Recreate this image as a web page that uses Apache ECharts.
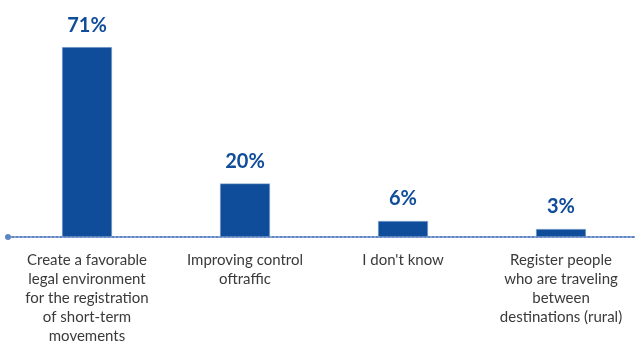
<!doctype html>
<html lang="en">
<head>
	<meta charset="utf-8" />
	<script src="https://cdn.jsdelivr.net/npm/echarts@6/dist/echarts.min.js"></script>
	<style>
		html, body { margin: 0; padding: 0; background: #fff; }
	</style>
</head>
<body>
	<div id="main" style="width: 635px; height: 341px;"></div>
	<script>
		var categories = [
			'Create a favorable\nlegal environment\nfor the registration\nof short-term\nmovements',
			'Improving control\noftraffic',
			'I don\'t know',
			'Register people\nwho are traveling\nbetween\ndestinations (rural)'
		];
		var values = [71, 20, 6, 3];

		var myChart = echarts.init(document.getElementById('main'));
		var option = {
			animation: false,
			grid: {
				left: 8,
				right: -5,
				top: 23,
				height: 214,
				containLabel: false,
				outerBoundsMode: 'none'
			},
			xAxis: {
				type: 'category',
				data: categories,
				axisTick: { show: false },
				axisLine: {
					show: true,
					symbol: ['circle', 'none'],
					symbolSize: [6, 6],
					lineStyle: { color: '#5f86c4', type: 'dotted', width: 2 }
				},
				axisLabel: {
					interval: 0,
					margin: 14,
					color: '#3a3a3a',
					fontFamily: 'Lato',
					fontSize: 15,
					lineHeight: 19,
					align: 'center'
				}
			},
			yAxis: {
				type: 'value',
				min: 0,
				max: 80,
				show: false,
				splitLine: { show: false }
			},
			series: [{
				type: 'bar',
				data: values,
				barWidth: 50,
				itemStyle: {
					color: '#0f4c9a',
					borderColor: '#a9bfe0',
					borderWidth: 0.5
				},
				label: {
					show: true,
					position: 'top',
					distance: 12,
					formatter: '{c}%',
					color: '#0f4c9a',
					fontFamily: 'Lato',
					fontWeight: 'bold',
					fontSize: 20
				}
			}]
		};
		myChart.setOption(option);
	</script>
</body>
</html>
